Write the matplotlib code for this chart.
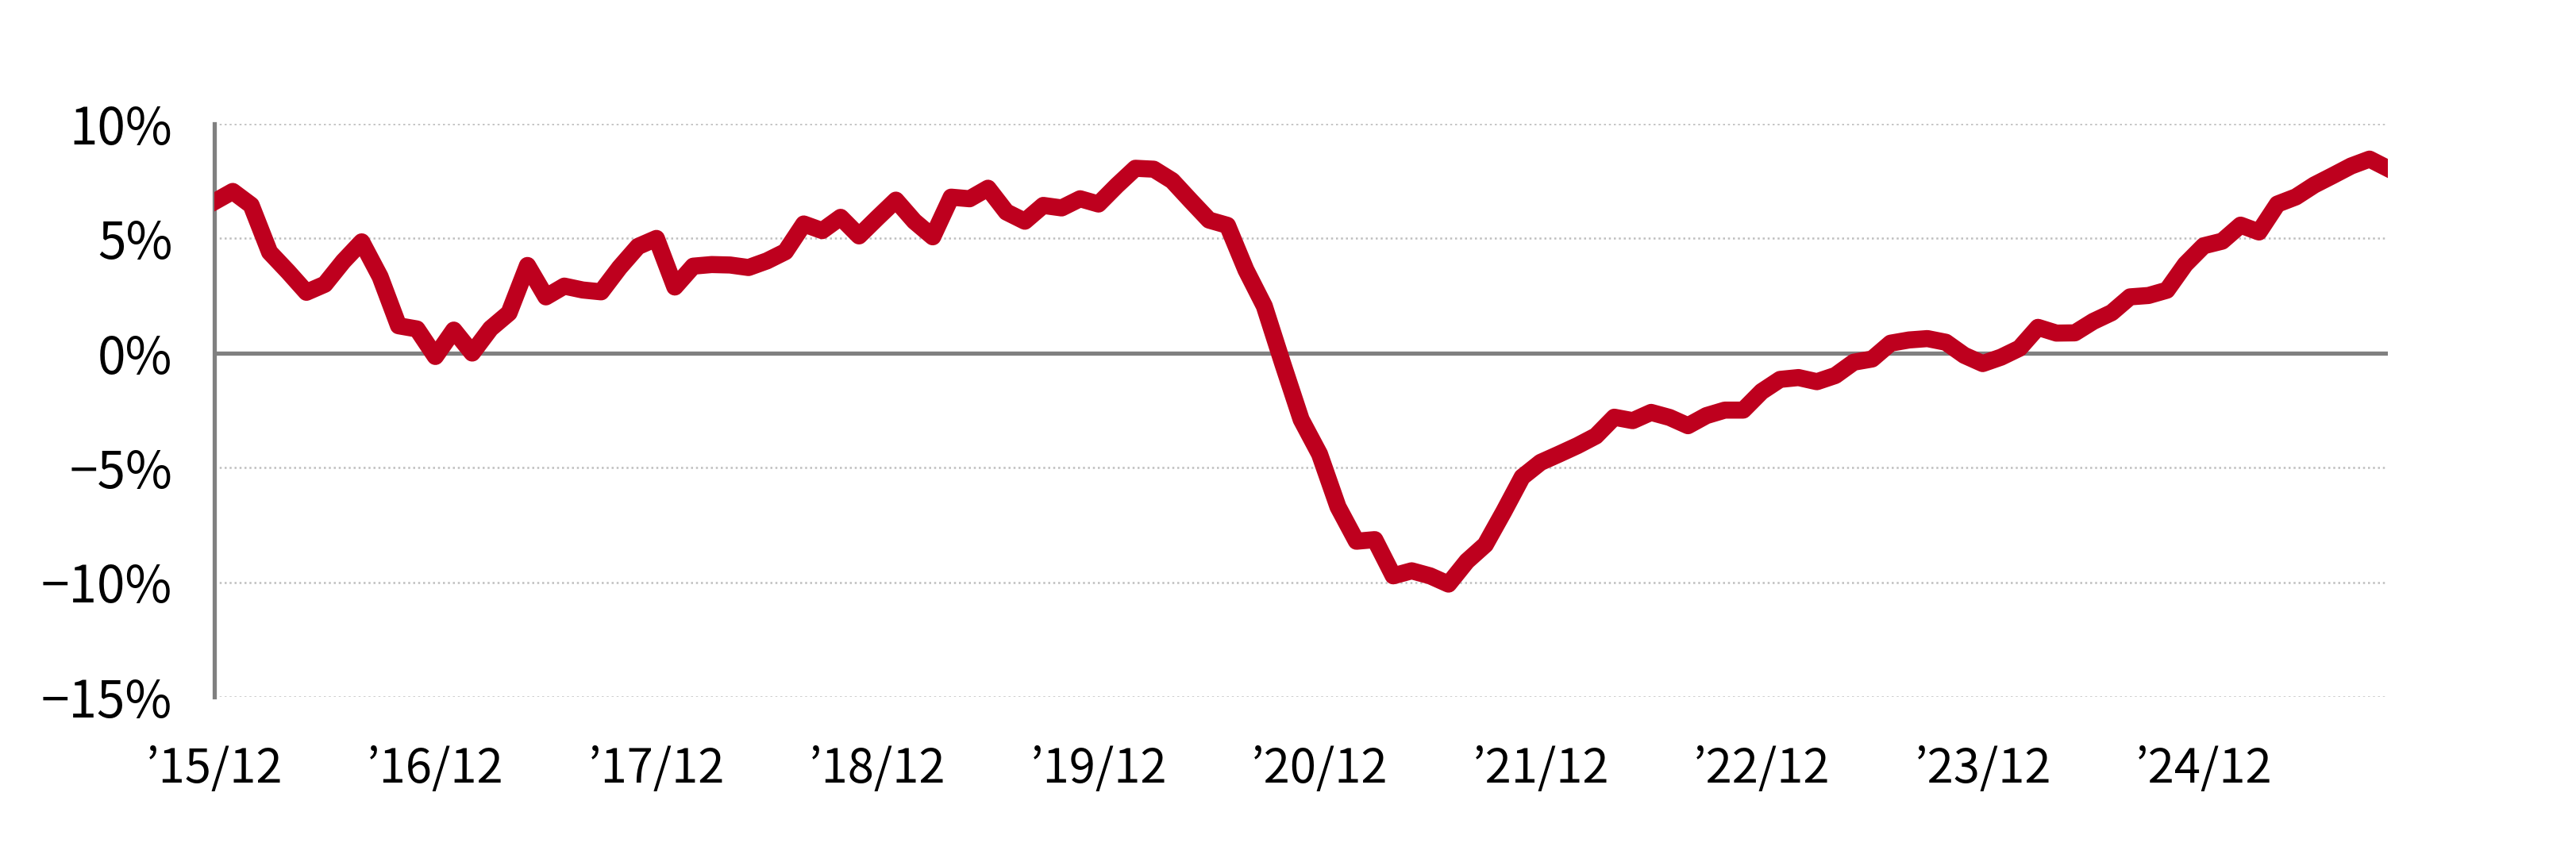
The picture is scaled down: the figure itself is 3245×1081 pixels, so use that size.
import numpy as np
import matplotlib
matplotlib.use("Agg")
import matplotlib.pyplot as plt

# monthly values, '15/12 .. '25/10 (%)
values = [6.6, 7.05, 6.45, 4.4, 3.55, 2.65, 3.0, 4.0, 4.85, 3.33,
          1.19, 1.05, -0.15, 1.0, 0.0, 1.07, 1.75, 3.82, 2.45, 2.92,
          2.75, 2.67, 3.73, 4.65, 5.0, 2.88, 3.79, 3.86, 3.84, 3.73,
          4.02, 4.42, 5.63, 5.34, 5.92, 5.11, 5.9, 6.67, 5.75, 5.07,
          6.8, 6.73, 7.19, 6.15, 5.75, 6.44, 6.33, 6.73, 6.5, 7.31,
          8.06, 8.02, 7.52, 6.65, 5.8, 5.57, 3.63, 2.05, -0.46, -2.9,
          -4.41, -6.71, -8.21, -8.14, -9.72, -9.5, -9.72, -10.08, -9.08, -8.36,
          -6.92, -5.41, -4.77, -4.41, -4.04, -3.62, -2.8, -2.95, -2.59, -2.81,
          -3.17, -2.73, -2.49, -2.49, -1.68, -1.15, -1.07, -1.25, -0.98, -0.4,
          -0.26, 0.43, 0.57, 0.63, 0.47, -0.1, -0.46, -0.18, 0.21, 1.12,
          0.87, 0.88, 1.38, 1.76, 2.45, 2.51, 2.74, 3.87, 4.68, 4.88,
          5.58, 5.28, 6.5, 6.81, 7.33, 7.74, 8.16, 8.46, 8.05]

x_labels = ["’15/12", "’16/12", "’17/12", "’18/12", "’19/12",
            "’20/12", "’21/12", "’22/12", "’23/12", "’24/12"]
y_ticks = [-15, -10, -5, 0, 5, 10]
y_labels = ["−15%", "−10%", "−5%", "0%", "5%", "10%"]

plt.rcParams['font.family'] = ['Noto Sans CJK JP', 'DejaVu Sans']

fig = plt.figure(figsize=(32.45, 10.81), dpi=100)
ax = fig.add_axes([0.0832, 0.1878, 0.8438, 0.6679])

x = np.arange(len(values))

# dotted grid, solid zero line
for yv in y_ticks:
    if yv == 0:
        continue
    ax.axhline(yv, color='#BFBFBF', linewidth=1.8, linestyle=(0, (1, 1.5)), zorder=1)
ax.axhline(0, color='#808080', linewidth=3.8, zorder=2)

ax.plot(x, values, color='#BE001E', linewidth=15.5, solid_joinstyle='round',
        solid_capstyle='projecting', zorder=3)

ax.set_xlim(0, len(values) - 1)
ax.set_ylim(-15, 10)
ax.set_xticks(x[::12][:len(x_labels)])
ax.set_xticklabels(x_labels)
ax.set_yticks(y_ticks)
ax.set_yticklabels(y_labels)
ax.tick_params(axis='both', length=0, labelsize=46, colors='black')
ax.tick_params(axis='y', pad=38)
ax.tick_params(axis='x', pad=44, labelsize=43)

for s in ['top', 'right', 'bottom']:
    ax.spines[s].set_visible(False)
ax.spines['left'].set_color('#808080')
ax.spines['left'].set_linewidth(3.8)

fig.savefig('out.png', dpi=100)
